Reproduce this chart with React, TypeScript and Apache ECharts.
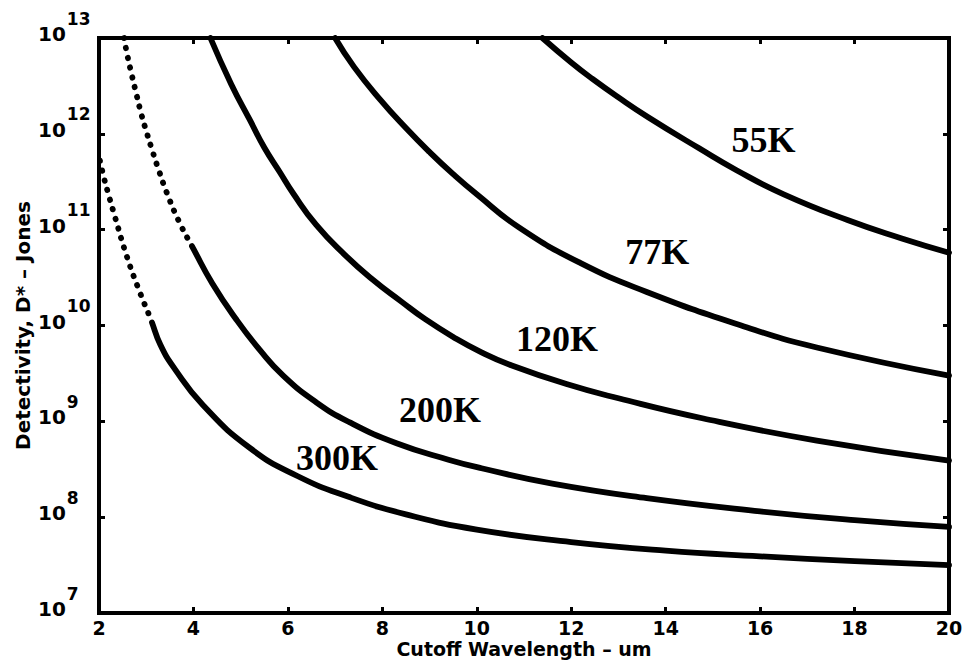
import React, { useEffect, useRef } from 'react';
import * as echarts from 'echarts';

// ---- tick labels ----
const xTicks = [2, 4, 6, 8, 10, 12, 14, 16, 18, 20];
const yExponents = [7, 8, 9, 10, 11, 12, 13];

// ---- curves (cutoff wavelength in um, detectivity in Jones) ----
const wl300 = [2.02, 2.1, 2.2, 2.34, 2.59, 2.87, 3.1, 3.3, 3.6, 4.2, 5.2, 6.2, 7.3, 8.5, 10, 12, 14, 16, 18, 20];
const d300 = [5.25e11, 3.55e11, 2.34e11, 1.35e11, 5.25e10, 2.19e10, 1.15e10, 6.3e9, 3.55e9, 1.48e9, 5.25e8, 2.69e8, 1.62e8, 1.07e8, 7.41e7, 5.5e7, 4.47e7, 3.9e7, 3.47e7, 3.16e7];
const dotted300 = 7; // leading points drawn as separate dots

const wl200 = [2.53, 2.6, 2.7, 2.8, 2.9, 3.0, 3.12, 3.25, 3.44, 3.7, 4.0, 4.4, 4.9, 5.4, 5.9, 6.6, 7.3, 8.3, 9.4, 10.1, 11.6, 13.6, 16, 18, 20];
const d200 = [1e13, 6.6e12, 4.0e12, 2.5e12, 1.58e12, 1.07e12, 6.9e11, 4.4e11, 2.4e11, 1.2e11, 6.3e10, 2.75e10, 1.17e10, 5.6e9, 3.0e9, 1.58e9, 9.8e8, 5.9e8, 3.98e8, 3.24e8, 2.24e8, 1.58e8, 1.15e8, 9.3e7, 7.9e7];
const dotted200 = 11;

const wl120 = [4.36, 4.8, 5.2, 5.5, 5.83, 6.11, 6.6, 7.2, 7.8, 8.4, 8.9, 9.5, 10.1, 10.7, 11.9, 13, 14.8, 17.2, 20];
const d120 = [1e13, 3.3e12, 1.38e12, 7.2e11, 3.98e11, 2.4e11, 1.12e11, 5.5e10, 3.0e10, 1.78e10, 1.17e10, 7.6e9, 5.25e9, 3.9e9, 2.45e9, 1.74e9, 1.07e9, 6.3e8, 3.9e8];

const wl77 = [7.0, 7.4, 7.95, 8.5, 9.0, 9.5, 10.0, 10.9, 12.2, 13.6, 15.6, 17.2, 20];
const d77 = [1e13, 5.0e12, 2.29e12, 1.15e12, 6.46e11, 3.8e11, 2.34e11, 1.05e11, 4.47e10, 2.24e10, 1.0e10, 5.9e9, 3.0e9];

const wl55 = [11.39, 12.0, 12.45, 13.0, 13.63, 14.7, 15.5, 16.5, 17.85, 19, 20];
const d55 = [1e13, 5.55e12, 3.74e12, 2.4e12, 1.49e12, 7.1e11, 4.17e11, 2.34e11, 1.26e11, 8.1e10, 5.75e10];

// ---- curve labels ----
const curveLabels = ['55K', '77K', '120K', '200K', '300K'];
const labelX = [16.07, 13.82, 11.7, 9.22, 7.04];
const labelY = [8.7e11, 5.8e10, 7.2e9, 1.3e9, 4.1e8];

const pair = (xs: number[], ys: number[]) => xs.map((x, i) => [x, ys[i]]);

const LINE_W = 5.8;
const DOT_STEP = 10;
const curve = (data: number[][]) => ({
  type: 'line',
  data,
  showSymbol: false,
  smooth: 0.5,
  lineStyle: { color: '#000', width: LINE_W, cap: 'round', join: 'round' },
  silent: true,
});

export default function App() {
  const ref = useRef<HTMLDivElement>(null);
  useEffect(() => {
    if (!ref.current) return;
    const chart = echarts.init(ref.current, undefined, { renderer: 'svg' });
    const p300 = pair(wl300, d300);
    const p200 = pair(wl200, d200);
    const axisFont = { fontFamily: 'DejaVu Sans', fontWeight: 'bold', color: '#000' };
    const axisLine = { show: true, lineStyle: { color: '#000', width: 4, cap: 'square' } };
    const axisTick = { show: true, inside: true, length: 6, lineStyle: { color: '#000', width: 3 } };
    const xBase = { type: 'value', min: xTicks[0], max: xTicks[xTicks.length - 1], interval: 2, splitLine: { show: false }, axisLine, axisTick };
    const yBase = { type: 'log', logBase: 10, min: Math.pow(10, yExponents[0]), max: Math.pow(10, yExponents[yExponents.length - 1]), interval: 1, splitNumber: 6, splitLine: { show: false }, minorTick: { show: false }, axisLine, axisTick };
    chart.setOption({
      animation: false,
      backgroundColor: '#fff',
      grid: { left: 99, right: 16, top: 38, bottom: 51, outerBoundsMode: 'none', containLabel: false },
      xAxis: [
        {
          ...xBase,
          position: 'bottom',
          name: 'Cutoff Wavelength \u2013 um',
          nameLocation: 'middle',
          nameGap: 26,
          nameMoveOverlap: false,
          nameTextStyle: { ...axisFont, fontSize: 19, lineHeight: 19 },
          axisLabel: { ...axisFont, fontSize: 19, lineHeight: 18, margin: 6, formatter: (v: number) => (xTicks.includes(v) ? String(v) : '') },
        },
        { ...xBase, position: 'top', axisLabel: { show: false } },
      ],
      yAxis: [
        {
          ...yBase,
          position: 'left',
          name: 'Detectivity, D* \u2013 Jones',
          nameLocation: 'middle',
          nameGap: 66,
          nameMoveOverlap: false,
          nameTextStyle: { ...axisFont, fontSize: 20 },
          axisLabel: {
            margin: 61,
            align: 'left',
            padding: [0, 0, 8, 0],
            formatter: (v: number) => {
              const e = Math.round(Math.log10(v));
              return yExponents.includes(e) ? `{b|10}{s|${e}}` : '';
            },
            rich: {
              b: { ...axisFont, fontSize: 20, lineHeight: 20, verticalAlign: 'bottom' },
              s: { ...axisFont, fontSize: 17, lineHeight: 17, verticalAlign: 'bottom', padding: [0, 0, 17, 1] },
            },
          },
        },
        { ...yBase, position: 'right', axisLabel: { show: false } },
      ],
      series: [
        curve(p300),
        curve(p200),
        curve(pair(wl120, d120)),
        curve(pair(wl77, d77)),
        curve(pair(wl55, d55)),
        {
          type: 'scatter',
          data: curveLabels.map((n, i) => [labelX[i], labelY[i], n]),
          symbolSize: 0,
          itemStyle: { color: '#000', opacity: 1 },
          silent: true,
          label: {
            show: true,
            position: 'inside',
            formatter: (p: any) => p.data[2],
            fontFamily: 'Liberation Serif',
            fontWeight: 'bold',
            fontSize: 36,
            color: '#000',
            textBorderWidth: 0,
            opacity: 1,
          },
        },
      ],
    });
    // steep leading parts of the 300K and 200K curves appear as separate dots
    const dashFor = (pts: number[][], n: number) => {
      let len = 0;
      let prev = chart.convertToPixel({ xAxisIndex: 0, yAxisIndex: 0 }, pts[0]) as number[];
      for (let i = 1; i < n; i++) {
        const cur = chart.convertToPixel({ xAxisIndex: 0, yAxisIndex: 0 }, pts[i]) as number[];
        len += Math.hypot(cur[0] - prev[0], cur[1] - prev[1]);
        prev = cur;
      }
      const count = Math.round(len / DOT_STEP);
      const dash: number[] = [];
      for (let k = 0; k < count; k++) dash.push(0.5, DOT_STEP - 0.5);
      dash.push(5000, 0);
      return dash;
    };
    chart.setOption({
      series: [
        { lineStyle: { type: dashFor(p300, dotted300) } },
        { lineStyle: { type: dashFor(p200, dotted200) } },
      ],
    });
    return () => chart.dispose();
  }, []);
  return <div ref={ref} style={{ position: 'absolute', left: 0, top: 0, width: 965, height: 664 }} />;
}
